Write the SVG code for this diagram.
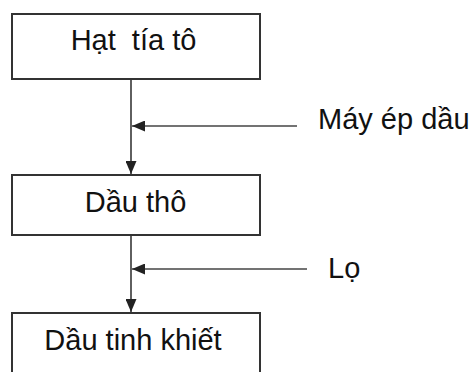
<svg xmlns="http://www.w3.org/2000/svg" width="474" height="372" viewBox="0 0 474 372">
  <defs>
    <style>
      .box { fill: #ffffff; stroke: #333333; stroke-width: 2; }
      .lbl { font-family: "Liberation Sans", Arial, sans-serif; font-size: 29px; fill: #111111; }
      .wire { fill: none; stroke: #444444; stroke-width: 1.7; }
    </style>
    <marker id="head" viewBox="0 0 13 11" refX="13" refY="5.5" markerWidth="13" markerHeight="11" markerUnits="userSpaceOnUse" orient="auto">
      <path d="M0,0 L13,5.5 L0,11 Z" fill="#222222"/>
    </marker>
  </defs>
  <rect width="474" height="372" fill="#ffffff"/>

  <g id="connectors">
    <line class="wire" x1="131" y1="79" x2="131" y2="174" marker-end="url(#head)"/>
    <line class="wire" x1="297" y1="126" x2="132" y2="126" marker-end="url(#head)"/>
    <line class="wire" x1="131" y1="235" x2="131" y2="312" marker-end="url(#head)"/>
    <line class="wire" x1="307" y1="269" x2="132" y2="269" marker-end="url(#head)"/>
  </g>

  <g id="hat-tia-to">
    <rect class="box" x="12" y="14" width="248" height="65"/>
    <text class="lbl" x="133.5" y="50" text-anchor="middle" xml:space="preserve">Hạt  tía tô</text>
  </g>

  <g id="dau-tho">
    <rect class="box" x="12" y="175" width="248" height="60"/>
    <text class="lbl" x="135.5" y="212" text-anchor="middle">Dầu thô</text>
  </g>

  <g id="dau-tinh-khiet">
    <rect class="box" x="12" y="313" width="248" height="70"/>
    <text class="lbl" x="133" y="350" text-anchor="middle">Dầu tinh khiết</text>
  </g>

  <g id="may-ep-dau">
    <text class="lbl" x="318" y="129">Máy ép dầu</text>
  </g>

  <g id="lo">
    <text class="lbl" x="328" y="278">Lọ</text>
  </g>
</svg>
